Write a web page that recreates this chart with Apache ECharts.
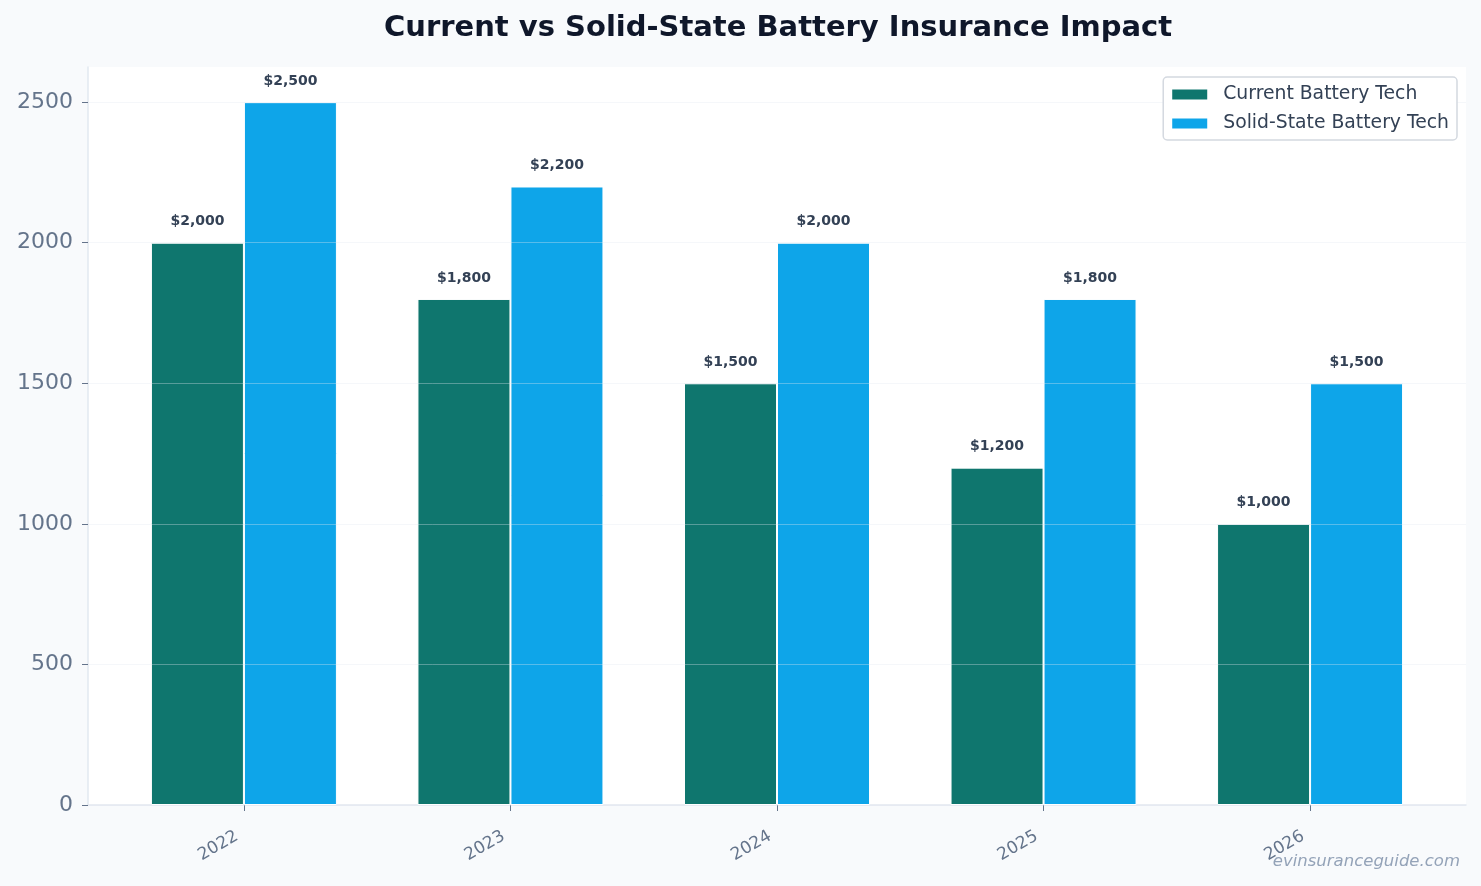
<!DOCTYPE html>
<html>
<head>
<meta charset="utf-8">
<script src="https://cdn.jsdelivr.net/npm/echarts@6/dist/echarts.min.js"></script>
<style>
  html, body { margin: 0; padding: 0; background: #f8fafc; }
  #chart { width: 1481px; height: 886px; }
</style>
</head>
<body>
<div id="chart"></div>
<script>
const years = ['2022', '2023', '2024', '2025', '2026']
const currentCost = [2000, 1800, 1500, 1200, 1000]
const solidCost = [2500, 2200, 2000, 1800, 1500]
const yTicks = [0, 500, 1000, 1500, 2000, 2500]

const font = 'DejaVu Sans'
const chart = echarts.init(document.getElementById('chart'))

function pairs (vals) {
  return vals.map(function (v, i) { return [i, v] })
}

const barLabel = {
  show: true,
  position: 'top',
  distance: 14,
  fontFamily: font,
  fontSize: 14,
  fontWeight: 'bold',
  color: '#334155',
  formatter: function (p) { return '$' + p.value[1].toLocaleString('en-US') }
}

const option = {
  backgroundColor: '#f8fafc',
  animation: false,
  title: {
    text: 'Current vs Solid-State Battery Insurance Impact',
    left: 379,
    top: 9,
    textStyle: { fontFamily: font, fontSize: 29, fontWeight: 'bold', color: '#0f172a' }
  },
  legend: {
    right: 24,
    top: 77,
    orient: 'vertical',
    icon: 'rect',
    itemWidth: 37,
    itemHeight: 12,
    itemGap: 10,
    padding: [8, 8, 7, 7],
    backgroundColor: '#ffffff',
    borderColor: '#d4d9e0',
    borderWidth: 1.5,
    borderRadius: 4,
    textStyle: { fontFamily: font, fontSize: 18.8, color: '#334155', padding: [0, 0, 0, 10] }
  },
  grid: {
    left: 88,
    right: 15,
    top: 67,
    bottom: 81,
    show: true,
    backgroundColor: '#ffffff',
    borderWidth: 0
  },
  xAxis: {
    type: 'value',
    min: -0.585,
    max: 4.585,
    splitLine: { show: false },
    axisLine: { show: true, lineStyle: { color: '#e2e8f0', width: 1.5 } },
    axisTick: { show: true, customValues: [0, 1, 2, 3, 4], length: 6, lineStyle: { color: '#64748b' } },
    axisLabel: {
      customValues: [0, 1, 2, 3, 4],
      rotate: 30,
      margin: 26,
      padding: [0, 8, 0, 0],
      fontFamily: font,
      fontSize: 17,
      color: '#64748b',
      formatter: function (v) { return years[Math.round(v)] }
    }
  },
  yAxis: {
    type: 'value',
    min: 0,
    max: 2625,
    z: 3,
    axisLine: { show: true, onZero: false, lineStyle: { color: '#e2e8f0', width: 1.5 } },
    axisTick: { show: true, customValues: yTicks, length: 6, lineStyle: { color: '#64748b' } },
    axisLabel: {
      customValues: yTicks,
      margin: 15,
      fontFamily: font,
      fontSize: 22,
      color: '#64748b',
      formatter: function (v) { return String(v) }
    },
    splitLine: { show: true, lineStyle: { color: 'rgba(226,232,240,0.35)', width: 1 } }
  },
  series: [
    {
      name: 'Current Battery Tech',
      type: 'bar',
      data: pairs(currentCost),
      barWidth: 93,
      barGap: '0%',
      itemStyle: { color: '#0f766e', borderColor: '#ffffff', borderWidth: 1 },
      label: barLabel
    },
    {
      name: 'Solid-State Battery Tech',
      type: 'bar',
      data: pairs(solidCost),
      barWidth: 93,
      barGap: '0%',
      itemStyle: { color: '#0ea5e9', borderColor: '#ffffff', borderWidth: 1 },
      label: barLabel
    }
  ],
  graphic: [{
    type: 'text',
    right: 21,
    top: 853,
    style: {
      text: 'evinsuranceguide.com',
      fontFamily: font,
      fontSize: 16.5,
      fontStyle: 'italic',
      fill: '#94a3b8'
    }
  }]
}

chart.setOption(option)
</script>
</body>
</html>
